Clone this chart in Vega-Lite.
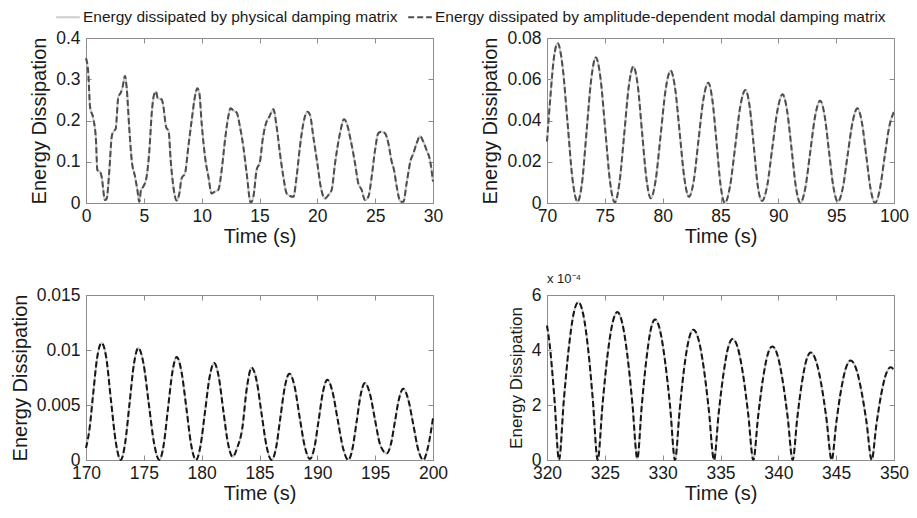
{
  "$schema": "https://vega.github.io/schema/vega-lite/v6.json",
  "padding": {"left": 10, "top": 4, "right": 12, "bottom": 4},
  "background": "white",
  "datasets": {
    "p1": [
      {"t":0,"v":0.351},{"t":0.2,"v":0.314},{"t":0.35,"v":0.233},{"t":0.63,"v":0.205},{"t":0.86,"v":0.153},{"t":0.98,"v":0.08},{"t":1.21,"v":0.076},{"t":1.35,"v":0.064},{"t":1.64,"v":0.007},{"t":1.79,"v":0.011},{"t":2.02,"v":0.08},{"t":2.22,"v":0.16},{"t":2.36,"v":0.173},{"t":2.56,"v":0.179},{"t":2.8,"v":0.258},{"t":3.0,"v":0.267},{"t":3.17,"v":0.282},{"t":3.37,"v":0.308},{"t":3.52,"v":0.278},{"t":3.75,"v":0.177},{"t":3.95,"v":0.104},{"t":4.24,"v":0.064},{"t":4.44,"v":0.032},{"t":4.61,"v":0.003},{"t":4.76,"v":0.032},{"t":4.96,"v":0.04},{"t":5.24,"v":0.064},{"t":5.48,"v":0.128},{"t":5.68,"v":0.217},{"t":5.88,"v":0.262},{"t":6.05,"v":0.27},{"t":6.2,"v":0.254},{"t":6.54,"v":0.251},{"t":6.69,"v":0.234},{"t":6.92,"v":0.185},{"t":7.15,"v":0.173},{"t":7.32,"v":0.104},{"t":7.55,"v":0.04},{"t":7.84,"v":0.006},{"t":8.07,"v":0.023},{"t":8.27,"v":0.06},{"t":8.56,"v":0.072},{"t":8.85,"v":0.137},{"t":9.14,"v":0.201},{"t":9.42,"v":0.258},{"t":9.63,"v":0.278},{"t":9.8,"v":0.266},{"t":10.0,"v":0.193},{"t":10.29,"v":0.112},{"t":10.58,"v":0.064},{"t":10.86,"v":0.023},{"t":11.1,"v":0.027},{"t":11.44,"v":0.032},{"t":11.73,"v":0.08},{"t":12.02,"v":0.153},{"t":12.3,"v":0.209},{"t":12.5,"v":0.23},{"t":12.74,"v":0.224},{"t":13.03,"v":0.219},{"t":13.31,"v":0.185},{"t":13.6,"v":0.137},{"t":13.89,"v":0.072},{"t":14.24,"v":0.001},{"t":14.47,"v":0.015},{"t":14.75,"v":0.08},{"t":15.04,"v":0.1},{"t":15.27,"v":0.153},{"t":15.56,"v":0.193},{"t":15.85,"v":0.209},{"t":16.2,"v":0.227},{"t":16.48,"v":0.185},{"t":16.77,"v":0.12},{"t":17.06,"v":0.064},{"t":17.35,"v":0.023},{"t":17.64,"v":0.017},{"t":17.93,"v":0.015},{"t":18.21,"v":0.064},{"t":18.5,"v":0.137},{"t":18.79,"v":0.193},{"t":19.14,"v":0.221},{"t":19.37,"v":0.213},{"t":19.65,"v":0.161},{"t":20.0,"v":0.096},{"t":20.29,"v":0.04},{"t":20.66,"v":0.011},{"t":20.95,"v":0.019},{"t":21.24,"v":0.032},{"t":21.53,"v":0.096},{"t":21.96,"v":0.169},{"t":22.31,"v":0.203},{"t":22.54,"v":0.193},{"t":22.88,"v":0.153},{"t":23.26,"v":0.096},{"t":23.54,"v":0.048},{"t":23.83,"v":0.032},{"t":24.12,"v":0.007},{"t":24.41,"v":0.015},{"t":24.7,"v":0.064},{"t":24.99,"v":0.128},{"t":25.27,"v":0.169},{"t":25.56,"v":0.173},{"t":25.85,"v":0.169},{"t":26.14,"v":0.145},{"t":26.43,"v":0.1},{"t":26.63,"v":0.08},{"t":26.86,"v":0.04},{"t":27.2,"v":0.003},{"t":27.44,"v":0.003},{"t":27.72,"v":0.048},{"t":28.07,"v":0.104},{"t":28.3,"v":0.12},{"t":28.59,"v":0.145},{"t":28.88,"v":0.162},{"t":29.16,"v":0.149},{"t":29.45,"v":0.128},{"t":29.74,"v":0.104},{"t":30.0,"v":0.052}
    ],
    "p2": [
      {"t":70.0,"v":0.0298},{"t":70.3,"v":0.052},{"t":70.6,"v":0.0705},{"t":70.92,"v":0.0774},{"t":71.35,"v":0.066},{"t":71.78,"v":0.0387},{"t":72.21,"v":0.0113},{"t":72.64,"v":0.0006},
      {"t":73.04,"v":0.0103},{"t":73.43,"v":0.0353},{"t":73.83,"v":0.0603},{"t":74.22,"v":0.0706},
      {"t":74.63,"v":0.0603},{"t":75.04,"v":0.0353},{"t":75.45,"v":0.0103},{"t":75.86,"v":0.0003},
      {"t":76.26,"v":0.0097},{"t":76.67,"v":0.033},{"t":77.07,"v":0.0565},{"t":77.47,"v":0.0661},
      {"t":77.85,"v":0.0568},{"t":78.22,"v":0.0342},{"t":78.6,"v":0.0116},{"t":78.97,"v":0.0023},
      {"t":79.4,"v":0.0113},{"t":79.83,"v":0.0332},{"t":80.26,"v":0.0551},{"t":80.69,"v":0.0641},
      {"t":81.09,"v":0.055},{"t":81.48,"v":0.0335},{"t":81.88,"v":0.0118},{"t":82.27,"v":0.003},
      {"t":82.69,"v":0.0109},{"t":83.1,"v":0.0306},{"t":83.52,"v":0.0502},{"t":83.94,"v":0.0583},
      {"t":84.3,"v":0.0498},{"t":84.66,"v":0.0292},{"t":85.01,"v":0.0085},{"t":85.37,"v":0},
      {"t":85.82,"v":0.008},{"t":86.27,"v":0.0274},{"t":86.71,"v":0.0468},{"t":87.16,"v":0.0548},
      {"t":87.52,"v":0.0468},{"t":87.88,"v":0.0274},{"t":88.23,"v":0.008},{"t":88.59,"v":0.001},
      {"t":89.04,"v":0.0085},{"t":89.48,"v":0.0268},{"t":89.93,"v":0.0451},{"t":90.37,"v":0.0527},
      {"t":90.75,"v":0.045},{"t":91.14,"v":0.0264},{"t":91.52,"v":0.0077},{"t":91.9,"v":0},
      {"t":92.33,"v":0.0072},{"t":92.76,"v":0.0248},{"t":93.19,"v":0.0424},{"t":93.62,"v":0.0496},
      {"t":94.0,"v":0.0424},{"t":94.38,"v":0.025},{"t":94.76,"v":0.0078},{"t":95.14,"v":0.0006},
      {"t":95.57,"v":0.0072},{"t":95.99,"v":0.0232},{"t":96.42,"v":0.0392},{"t":96.84,"v":0.0459},
      {"t":97.22,"v":0.0392},{"t":97.6,"v":0.023},{"t":97.98,"v":0.0067},{"t":98.36,"v":0},
      {"t":98.77,"v":0.0065},{"t":99.18,"v":0.022},{"t":99.59,"v":0.037},{"t":100.0,"v":0.0443}
    ],
    "p3": [
      {"t":170.0,"v":0.0011},{"t":170.3,"v":0.0028},{"t":170.6,"v":0.0058},{"t":170.95,"v":0.0092},{"t":171.35,"v":0.01064},{"t":171.75,"v":0.0093},{"t":172.17,"v":0.0053},{"t":172.58,"v":0.0016},{"t":173.0,"v":0},
      {"t":173.38,"v":0.0015},{"t":173.76,"v":0.0051},{"t":174.14,"v":0.0087},{"t":174.52,"v":0.01018},
      {"t":174.98,"v":0.0087},{"t":175.43,"v":0.0051},{"t":175.89,"v":0.0015},{"t":176.34,"v":0},
      {"t":176.72,"v":0.0014},{"t":177.09,"v":0.0047},{"t":177.47,"v":0.008},{"t":177.84,"v":0.00936},
      {"t":178.26,"v":0.008},{"t":178.68,"v":0.0047},{"t":179.09,"v":0.0014},{"t":179.51,"v":0},
      {"t":179.9,"v":0.0013},{"t":180.29,"v":0.0044},{"t":180.68,"v":0.0075},{"t":181.07,"v":0.00882},
      {"t":181.47,"v":0.0076},{"t":181.87,"v":0.0045},{"t":182.28,"v":0.0015},{"t":182.68,"v":0.0003},
      {"t":183.1,"v":0.0012},{"t":183.5,"v":0.0028},{"t":183.9,"v":0.0065},{"t":184.32,"v":0.00839},
      {"t":184.75,"v":0.0072},{"t":185.18,"v":0.0042},{"t":185.62,"v":0.0012},{"t":186.05,"v":0},
      {"t":186.43,"v":0.0011},{"t":186.81,"v":0.0039},{"t":187.2,"v":0.0067},{"t":187.58,"v":0.00785},
      {"t":188.03,"v":0.0067},{"t":188.47,"v":0.0039},{"t":188.92,"v":0.0012},{"t":189.36,"v":0.0001},
      {"t":189.74,"v":0.0011},{"t":190.11,"v":0.0036},{"t":190.49,"v":0.0062},{"t":190.86,"v":0.0073},
      {"t":191.31,"v":0.0062},{"t":191.77,"v":0.0036},{"t":192.22,"v":0.0011},{"t":192.67,"v":0},
      {"t":193.03,"v":0.001},{"t":193.4,"v":0.0035},{"t":193.76,"v":0.006},{"t":194.12,"v":0.007},
      {"t":194.55,"v":0.006},{"t":194.98,"v":0.0037},{"t":195.4,"v":0.0015},{"t":195.65,"v":0.0009},{"t":195.99,"v":0.0006},
      {"t":196.35,"v":0.0014},{"t":196.71,"v":0.0035},{"t":197.07,"v":0.0056},{"t":197.43,"v":0.00648},
      {"t":197.86,"v":0.0055},{"t":198.3,"v":0.0032},{"t":198.73,"v":0.0009},{"t":199.16,"v":0},
      {"t":199.55,"v":0.0011},{"t":200.0,"v":0.0038}
    ],
    "p4": [
      {"t":320.0,"v":0.000489},{"t":320.22,"v":0.000424},{"t":320.63,"v":0.00023},{"t":321.04,"v":0},
      {"t":321.46,"v":0.00022},{"t":321.88,"v":0.000406},{"t":322.29,"v":0.00053},{"t":322.71,"v":0.000574},
      {"t":323.13,"v":0.00053},{"t":323.55,"v":0.000406},{"t":323.96,"v":0.00022},{"t":324.38,"v":0},
      {"t":324.81,"v":0.000206},{"t":325.23,"v":0.00038},{"t":325.66,"v":0.000497},{"t":326.08,"v":0.000538},
      {"t":326.51,"v":0.000497},{"t":326.95,"v":0.00038},{"t":327.38,"v":0.000206},{"t":327.81,"v":0.000005},
      {"t":328.19,"v":0.000196},{"t":328.58,"v":0.000361},{"t":328.96,"v":0.000472},{"t":329.34,"v":0.000511},
      {"t":329.77,"v":0.000472},{"t":330.2,"v":0.000361},{"t":330.64,"v":0.000196},{"t":331.07,"v":0},
      {"t":331.47,"v":0.000182},{"t":331.86,"v":0.000335},{"t":332.26,"v":0.000438},{"t":332.65,"v":0.000474},
      {"t":333.1,"v":0.000438},{"t":333.55,"v":0.000335},{"t":333.99,"v":0.000182},{"t":334.44,"v":0},
      {"t":334.84,"v":0.000169},{"t":335.25,"v":0.000311},{"t":335.65,"v":0.000407},{"t":336.05,"v":0.00044},
      {"t":336.5,"v":0.000407},{"t":336.95,"v":0.000311},{"t":337.39,"v":0.000169},{"t":337.84,"v":0},
      {"t":338.25,"v":0.000158},{"t":338.66,"v":0.000292},{"t":339.07,"v":0.000382},{"t":339.48,"v":0.000413},
      {"t":339.92,"v":0.000382},{"t":340.36,"v":0.000292},{"t":340.8,"v":0.000158},{"t":341.24,"v":0},
      {"t":341.63,"v":0.00015},{"t":342.02,"v":0.000276},{"t":342.41,"v":0.000361},{"t":342.8,"v":0.000391},
      {"t":343.25,"v":0.000361},{"t":343.71,"v":0.000276},{"t":344.16,"v":0.00015},{"t":344.61,"v":0},
      {"t":345.02,"v":0.000139},{"t":345.43,"v":0.000256},{"t":345.84,"v":0.000334},{"t":346.25,"v":0.000362},
      {"t":346.71,"v":0.000334},{"t":347.16,"v":0.000256},{"t":347.62,"v":0.000139},{"t":348.07,"v":0},
      {"t":348.48,"v":0.000129},{"t":348.89,"v":0.000238},{"t":349.3,"v":0.000311},{"t":349.71,"v":0.000337},{"t":350.0,"v":0.000328}
    ]
  },
  "config": {
    "font": "Liberation Sans",
    "view": {"stroke": null},
    "axis": {
      "labelFont": "Liberation Sans", "titleFont": "Liberation Sans",
      "labelFontSize": 17.5, "labelColor": "#1a1a1a",
      "titleFontSize": 20, "titleFontWeight": "normal", "titleColor": "#1a1a1a",
      "domainColor": "#8c8c8c", "tickColor": "#8c8c8c", "domainWidth": 1, "tickWidth": 1,
      "tickSize": -5, "labelPadding": 9, "grid": false, "labelFlush": false, "labelOverlap": false
    },
    "axisX": {"titlePadding": 2, "labelPadding": 9},
    "axisY": {"titlePadding": 6, "labelPadding": 11},
    "legend": {
      "orient": "none", "legendX": -31, "legendY": -34, "direction": "horizontal", "title": null,
      "labelFont": "Liberation Sans", "labelFontSize": 15.5, "labelColor": "#1a1a1a", "labelLimit": 0,
      "symbolType": "stroke", "symbolSize": 560, "symbolStrokeWidth": 2,
      "labelOffset": 2, "columnPadding": 6, "padding": 0
    }
  },
  "columns": 2,
  "spacing": {"row": 26, "column": 32},
  "concat": [
    {
      "width": 347, "height": 165,
      "data": {"name": "p1"},
      "layer": [
        {"mark": {"type": "line", "interpolate": "monotone", "strokeWidth": 2},
         "encoding": {
           "x": {"field": "t", "type": "quantitative", "scale": {"domain": [0, 30], "nice": false}, "axis": {"values": [0,5,10,15,20,25,30], "format": "d", "title": "Time (s)"}},
           "y": {"field": "v", "type": "quantitative", "scale": {"domain": [0, 0.4], "nice": false}, "axis": {"values": [0,0.1,0.2,0.3,0.4], "labelExpr": "format(datum.value, '.3~g')", "title": "Energy Dissipation"}},
           "color": {"datum": "Energy dissipated by physical damping matrix", "scale": {"domain": ["Energy dissipated by physical damping matrix", "Energy dissipated by amplitude-dependent modal damping matrix", "modal-lower"], "range": ["#cccccc", "#4d4d4d", "#151515"]}, "legend": {"values": ["Energy dissipated by physical damping matrix", "Energy dissipated by amplitude-dependent modal damping matrix"]}},
           "strokeDash": {"datum": "Energy dissipated by physical damping matrix", "scale": {"domain": ["Energy dissipated by physical damping matrix", "Energy dissipated by amplitude-dependent modal damping matrix", "modal-lower"], "range": [[1,0],[6,3],[6,3]]}, "legend": {"values": ["Energy dissipated by physical damping matrix", "Energy dissipated by amplitude-dependent modal damping matrix"]}}
         }},
        {"mark": {"type": "line", "interpolate": "monotone", "strokeWidth": 2},
         "encoding": {
           "x": {"field": "t", "type": "quantitative", "axis": {"orient": "top", "values": [0,5,10,15,20,25,30], "labels": false, "title": null}},
           "y": {"field": "v", "type": "quantitative", "axis": {"orient": "right", "values": [0,0.1,0.2,0.3,0.4], "labels": false, "title": null}},
           "color": {"datum": "Energy dissipated by amplitude-dependent modal damping matrix"},
           "strokeDash": {"datum": "Energy dissipated by amplitude-dependent modal damping matrix"}
         }}
      ],
      "resolve": {"axis": {"x": "independent", "y": "independent"}}
    },
    {
      "width": 347, "height": 165,
      "data": {"name": "p2"},
      "layer": [
        {"mark": {"type": "line", "interpolate": "monotone", "strokeWidth": 2},
         "encoding": {
           "x": {"field": "t", "type": "quantitative", "scale": {"domain": [70, 100], "nice": false}, "axis": {"values": [70,75,80,85,90,95,100], "format": "d", "title": "Time (s)"}},
           "y": {"field": "v", "type": "quantitative", "scale": {"domain": [0, 0.08], "nice": false}, "axis": {"values": [0,0.02,0.04,0.06,0.08], "labelExpr": "format(datum.value, '.3~g')", "title": "Energy Dissipation"}},
           "color": {"datum": "Energy dissipated by physical damping matrix"},
           "strokeDash": {"datum": "Energy dissipated by physical damping matrix"}
         }},
        {"mark": {"type": "line", "interpolate": "monotone", "strokeWidth": 2},
         "encoding": {
           "x": {"field": "t", "type": "quantitative", "axis": {"orient": "top", "values": [70,75,80,85,90,95,100], "labels": false, "title": null}},
           "y": {"field": "v", "type": "quantitative", "axis": {"orient": "right", "values": [0,0.02,0.04,0.06,0.08], "labels": false, "title": null}},
           "color": {"datum": "Energy dissipated by amplitude-dependent modal damping matrix"},
           "strokeDash": {"datum": "Energy dissipated by amplitude-dependent modal damping matrix"}
         }}
      ],
      "resolve": {"axis": {"x": "independent", "y": "independent"}}
    },
    {
      "width": 347, "height": 165,
      "data": {"name": "p3"},
      "layer": [
        {"mark": {"type": "line", "interpolate": "monotone", "strokeWidth": 2},
         "encoding": {
           "x": {"field": "t", "type": "quantitative", "scale": {"domain": [170, 200], "nice": false}, "axis": {"values": [170,175,180,185,190,195,200], "format": "d", "title": "Time (s)"}},
           "y": {"field": "v", "type": "quantitative", "scale": {"domain": [0, 0.015], "nice": false}, "axis": {"values": [0,0.005,0.01,0.015], "labelExpr": "format(datum.value, '.3~g')", "title": "Energy Dissipation"}},
           "color": {"datum": "Energy dissipated by physical damping matrix"},
           "strokeDash": {"datum": "Energy dissipated by physical damping matrix"}
         }},
        {"mark": {"type": "line", "interpolate": "monotone", "strokeWidth": 2},
         "encoding": {
           "x": {"field": "t", "type": "quantitative", "axis": {"orient": "top", "values": [170,175,180,185,190,195,200], "labels": false, "title": null}},
           "y": {"field": "v", "type": "quantitative", "axis": {"orient": "right", "values": [0,0.005,0.01,0.015], "labels": false, "title": null}},
           "color": {"datum": "modal-lower"},
           "strokeDash": {"datum": "modal-lower"}
         }}
      ],
      "resolve": {"axis": {"x": "independent", "y": "independent"}}
    },
    {
      "width": 347, "height": 165,
      "title": {"text": "x 10⁻⁴", "anchor": "start", "frame": "group", "fontSize": 13, "fontWeight": "normal", "color": "#1a1a1a", "offset": 0, "font": "Liberation Sans"},
      "data": {"name": "p4"},
      "layer": [
        {"mark": {"type": "line", "interpolate": "monotone", "strokeWidth": 2},
         "encoding": {
           "x": {"field": "t", "type": "quantitative", "scale": {"domain": [320, 350], "nice": false}, "axis": {"values": [320,325,330,335,340,345,350], "format": "d", "title": "Time (s)"}},
           "y": {"field": "v", "type": "quantitative", "scale": {"domain": [0, 0.0006], "nice": false}, "axis": {"values": [0,0.0002,0.0004,0.0006], "labelExpr": "format(datum.value*10000, '~g')", "title": "Energy Dissipation", "titleFontSize": 17}},
           "color": {"datum": "Energy dissipated by physical damping matrix"},
           "strokeDash": {"datum": "Energy dissipated by physical damping matrix"}
         }},
        {"mark": {"type": "line", "interpolate": "monotone", "strokeWidth": 2},
         "encoding": {
           "x": {"field": "t", "type": "quantitative", "axis": {"orient": "top", "values": [320,325,330,335,340,345,350], "labels": false, "title": null}},
           "y": {"field": "v", "type": "quantitative", "axis": {"orient": "right", "values": [0,0.0002,0.0004,0.0006], "labels": false, "title": null}},
           "color": {"datum": "modal-lower"},
           "strokeDash": {"datum": "modal-lower"}
         }}
      ],
      "resolve": {"axis": {"x": "independent", "y": "independent"}}
    }
  ]
}
